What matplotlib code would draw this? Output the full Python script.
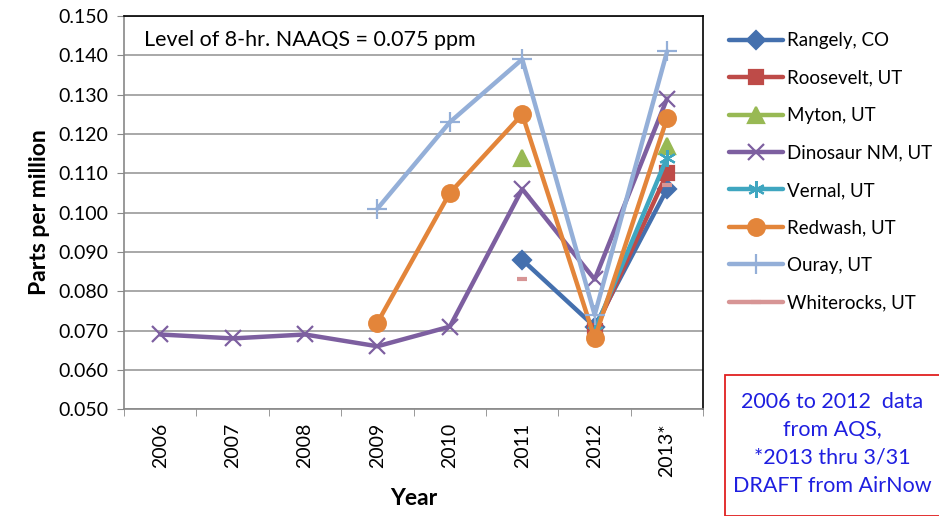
import matplotlib
matplotlib.use('Agg')
import matplotlib.pyplot as plt
from matplotlib.patches import Rectangle
import numpy as np

plt.rcParams['font.family'] = ['Lato', 'DejaVu Sans']

# 数据
years = ['2006', '2007', '2008', '2009', '2010', '2011', '2012', '2013*']
nan = np.nan
rangely = [nan, nan, nan, nan, nan, 0.088, 0.071, 0.106]
roosevelt = [nan, nan, nan, nan, nan, nan, 0.070, 0.110]
myton = [nan, nan, nan, nan, nan, 0.114, nan, 0.117]
dinosaur = [0.069, 0.068, 0.069, 0.066, 0.071, 0.106, 0.083, 0.129]
vernal = [nan, nan, nan, nan, nan, nan, 0.070, 0.114]
redwash = [nan, nan, nan, 0.072, 0.105, 0.125, 0.068, 0.124]
ouray = [nan, nan, nan, 0.101, 0.123, 0.139, 0.074, 0.141]
whiterocks = [nan, nan, nan, nan, nan, 0.083, nan, 0.107]

series = [
    ('Rangely, CO', rangely, '#4470AE', 'D', 9),
    ('Roosevelt, UT', roosevelt, '#BE4B48', 's', 10),
    ('Myton, UT', myton, '#98B954', '^', 11),
    ('Dinosaur NM, UT', dinosaur, '#7D5FA0', 'x', 12),
    ('Vernal, UT', vernal, '#3FA6C0', (6, 2, 0), 12),
    ('Redwash, UT', redwash, '#E3853A', 'o', 12),
    ('Ouray, UT', ouray, '#94AFD8', '+', 14),
    ('Whiterocks, UT', whiterocks, '#D79595', '_', 7),
]

fig = plt.figure(figsize=(9.39, 5.16), dpi=100)
ax = fig.add_axes([0.132, 0.207, 0.617, 0.762])

x = np.arange(len(years))
for name, vals, color, marker, ms in series:
    ax.plot(x, vals, color=color, linewidth=3.2, marker=marker, markersize=ms,
            markeredgewidth=1.6 if marker != '_' else 3,
            markerfacecolor=color, markeredgecolor=color, label=name,
            solid_capstyle='round')

ax.set_xlim(-0.5, len(years) - 0.5)
ax.set_ylim(0.050, 0.150)
yt = np.arange(0.050, 0.1501, 0.010)
ax.set_yticks(yt)
ax.set_yticklabels([f'{v:.3f}' for v in yt], fontsize=14)
ax.set_xticks(x)
ax.set_xticklabels(years, rotation=90, fontsize=14)
ax.set_xticks(np.arange(-0.5, len(years)), minor=True)
ax.tick_params(axis='x', which='major', length=0, pad=10)
ax.tick_params(axis='x', which='minor', length=5, color='#888888')
ax.tick_params(axis='y', length=5, color='#888888', pad=6)
ax.grid(axis='y', color='#999999', linewidth=1.2)
ax.set_axisbelow(True)
for s in ['left', 'bottom']:
    ax.spines[s].set_color('#888888')
    ax.spines[s].set_linewidth(1.2)
for s in ['top', 'right']:
    ax.spines[s].set_color('#000000')
    ax.spines[s].set_linewidth(1.2)

ax.set_ylabel('Parts per million', fontsize=16.5, fontweight='bold', labelpad=6)
ax.set_xlabel('Year', fontsize=16.5, fontweight='bold', labelpad=8)

ax.text(0.035, 0.94, 'Level of 8-hr. NAAQS = 0.075 ppm', transform=ax.transAxes,
        fontsize=15.5, va='center', ha='left')

fig.legend(loc='upper left', bbox_to_anchor=(0.768, 0.952), frameon=False,
           fontsize=13.5, handlelength=2.9, handletextpad=0.2, labelspacing=1.09,
           borderaxespad=0)

# 右下角说明框
fig.patches.append(Rectangle((725 / 939, 0), 1.0, 1 - 375 / 516, transform=fig.transFigure,
                             facecolor='white', edgecolor='#E02020', linewidth=1.3))
fig.text(832 / 939, 1 - 444 / 516,
         '2006 to 2012  data\nfrom AQS,\n*2013 thru 3/31\nDRAFT from AirNow',
         ha='center', va='center', color='#1F1FE0', fontsize=15.5, linespacing=1.5)

fig.savefig('out.png', dpi=100, facecolor='white')
plt.close()
